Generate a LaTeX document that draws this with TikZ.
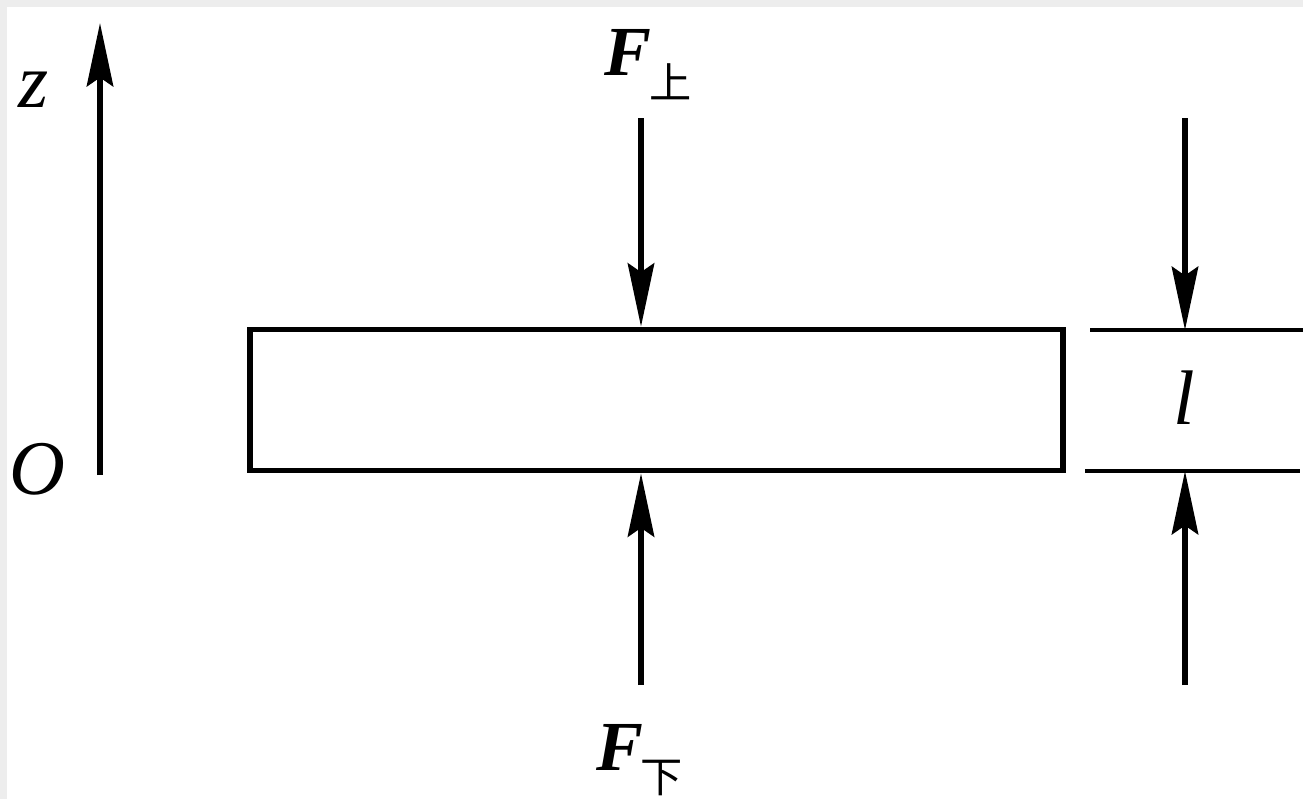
\documentclass[tikz,border=0pt]{standalone}
\usepackage{fontspec}
\setmainfont{Liberation Serif}
\newfontfamily\cjk{Noto Sans CJK SC}
\usetikzlibrary{arrows.meta}
\begin{document}
\begin{tikzpicture}[x=0.01cm,y=-0.01cm,
  arr/.style={line width=1.6pt, -{Stealth[length=18pt,width=7.5pt,inset=2.5pt]}},
  dim/.style={line width=1.3pt},
  lbl/.style={font=\fontsize{20}{20}\selectfont, inner sep=0pt},
  big/.style={font=\fontsize{22}{22}\selectfont, inner sep=0pt},
  sub/.style={font=\cjk\fontsize{12}{12}\selectfont, inner sep=0pt}]
\fill[black!7] (0,0) rectangle (1303,799);
\fill[white] (7,7) rectangle (1303,799);
\useasboundingbox (0,0) rectangle (1303,799);

% axis
\coordinate (zO) at (100,475);
\coordinate (zT) at (100,23);
\draw[arr] (zO) -- (zT);
\node[big] (zl) at (34,90) {\textit{z}};
\node[big] (Ol) at (37,469) {\textit{O}};

% bar
\node[draw, line width=1.6pt, minimum width=8.13cm, minimum height=1.41cm, inner sep=0pt] (bar) at (656.5,400) {};

% forces
\coordinate (fu) at (641,118);
\coordinate (fd) at (641,685);
\draw[arr] (fu) -- (fu |- bar.north);
\draw[arr] (fd) -- (fd |- bar.south);
\node[lbl, anchor=base west] (Fu) at (604,75) {\textbf{\textit{F}}};
\node[sub, anchor=south west] (Fus) at (649,101) {上};
\node[lbl, anchor=base west] (Fd) at (596,770) {\textbf{\textit{F}}};
\node[sub, anchor=south west] (Fds) at (640,797) {下};

% dimension
\coordinate (d1a) at (1090,330);
\coordinate (d1b) at (1303,330);
\coordinate (d2a) at (1085,471);
\coordinate (d2b) at (1300,471);
\draw[dim] (d1a) -- (d1b);
\draw[dim] (d2a) -- (d2b);
\coordinate (au) at (1185,118);
\coordinate (ad) at (1185,685);
\draw[arr] (au) -- (au |- d1a);
\draw[arr] (ad) -- (ad |- d2a);
\node[big] (lab) at (1184,398) {\textit{l}};
\end{tikzpicture}
\end{document}
